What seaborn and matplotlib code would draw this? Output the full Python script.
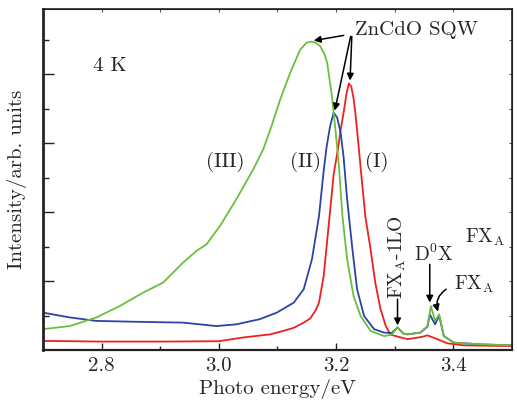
import numpy as np
import pandas as pd
import matplotlib
matplotlib.use('Agg')
import matplotlib.pyplot as plt
import seaborn as sns

# PL spectra at 4 K
# curve (I) - red
x_I = [2.70, 2.80, 2.90, 3.00, 3.042, 3.088, 3.11, 3.128, 3.145, 3.156, 3.165,
       3.171, 3.179, 3.188, 3.196, 3.203, 3.208, 3.213, 3.218, 3.222, 3.226,
       3.230, 3.233, 3.237, 3.242, 3.250, 3.259, 3.267, 3.276, 3.285, 3.293,
       3.322, 3.345, 3.356, 3.373, 3.39, 3.418, 3.50]
y_I = [0.27, 0.25, 0.25, 0.26, 0.37, 0.46, 0.56, 0.65, 0.80, 0.92, 1.15,
       1.38, 2.15, 3.70, 5.10, 5.80, 6.40, 6.89, 7.45, 7.74, 7.65,
       7.30, 6.89, 6.20, 5.30, 3.89, 2.93, 1.96, 1.19, 0.70, 0.45,
       0.32, 0.38, 0.43, 0.32, 0.20, 0.14, 0.12]

# curve (II) - blue
x_II = [2.70, 2.746, 2.791, 2.871, 2.939, 2.996, 3.03, 3.07, 3.099, 3.128,
        3.145, 3.159, 3.171, 3.179, 3.184, 3.19, 3.196, 3.202, 3.208, 3.213,
        3.219, 3.228, 3.236, 3.248, 3.265, 3.282, 3.295, 3.305, 3.315, 3.322,
        3.344, 3.356, 3.36, 3.369, 3.376, 3.384, 3.401, 3.447, 3.50]
y_II = [1.09, 0.95, 0.85, 0.82, 0.80, 0.70, 0.75, 0.90, 1.09, 1.38,
        1.77, 2.64, 3.89, 5.20, 5.90, 6.50, 6.89, 6.75, 6.30, 5.60,
        4.38, 2.93, 1.77, 0.99, 0.61, 0.51, 0.50, 0.66, 0.48, 0.46,
        0.51, 0.68, 1.04, 0.75, 1.00, 0.41, 0.22, 0.17, 0.14]

# curve (III) - green
x_III = [2.70, 2.746, 2.791, 2.831, 2.871, 2.905, 2.939, 2.962, 2.979, 3.002,
         3.03, 3.059, 3.076, 3.09, 3.105, 3.122, 3.139, 3.15, 3.158, 3.165,
         3.173, 3.18, 3.185, 3.193, 3.199, 3.205, 3.211, 3.219, 3.23, 3.242,
         3.259, 3.282, 3.295, 3.305, 3.315, 3.322, 3.344, 3.356, 3.362, 3.369,
         3.376, 3.384, 3.401, 3.447, 3.50]
y_III = [0.61, 0.70, 0.95, 1.28, 1.67, 1.96, 2.54, 2.88, 3.07, 3.60,
         4.38, 5.25, 5.83, 6.50, 7.28, 8.05, 8.72, 8.92, 8.95, 8.92,
         8.82, 8.60, 8.34, 7.37, 6.41, 5.34, 3.89, 2.64, 1.57, 0.99,
         0.56, 0.41, 0.45, 0.66, 0.48, 0.46, 0.51, 0.70, 1.28, 0.85,
         1.04, 0.41, 0.22, 0.17, 0.14]

curve_labels = ['(I)', '(II)', '(III)']
curve_colors = ['#ee2020', '#2a45a5', '#6abf3c']

sns.set_style('ticks')
plt.rcParams['font.family'] = ['cmr10', 'DejaVu Serif']
plt.rcParams['mathtext.fontset'] = 'cm'
plt.rcParams['axes.formatter.use_mathtext'] = True

fig = plt.figure(figsize=(5.17, 4.03), dpi=100)
ax = fig.add_axes([0.083, 0.131, 0.907, 0.847])

df = pd.concat([
    pd.DataFrame({'E': x_I, 'I': y_I, 'curve': '(I)'}),
    pd.DataFrame({'E': x_II, 'I': y_II, 'curve': '(II)'}),
    pd.DataFrame({'E': x_III, 'I': y_III, 'curve': '(III)'}),
])
for lab, col in zip(curve_labels, curve_colors):
    sns.lineplot(x='E', y='I', data=df[df['curve'] == lab], color=col,
                 lw=1.3, ax=ax, legend=False)

ax.set_xlim(2.7, 3.5)
ax.set_ylim(0, 9.9)
ax.set_xticks([2.8, 3.0, 3.2, 3.4])
ax.set_xticklabels(['2.8', '3.0', '3.2', '3.4'])
ax.set_xticks([2.9, 3.1, 3.3], minor=True)
ax.set_yticks([2, 4, 6, 8])
ax.set_yticks([1, 3, 5, 7, 9], minor=True)
ax.set_yticklabels([])
ax.tick_params(axis='x', which='major', direction='in', length=5, width=1,
               labelsize=15, color='#222222', pad=5)
ax.tick_params(axis='x', which='minor', direction='in', length=3, width=1,
               color='#222222')
ax.tick_params(axis='y', which='major', direction='in', length=8, width=1,
               color='#222222')
ax.tick_params(axis='y', which='minor', direction='in', length=4, width=1,
               color='#222222')
for s in ax.spines.values():
    s.set_linewidth(1.2)
    s.set_color('#222222')
ax.spines['left'].set_linewidth(2)
ax.spines['bottom'].set_linewidth(1.6)

# faint short ticks on top and right
top = ax.secondary_xaxis('top')
top.set_xticks([2.8, 2.9, 3.0, 3.1, 3.2, 3.3, 3.4])
top.tick_params(direction='in', length=2, labeltop=False, color='#555555')
right = ax.secondary_yaxis('right')
right.set_yticks([1, 2, 3, 4, 5, 6, 7, 8, 9])
right.tick_params(direction='in', length=2.5, labelright=False, color='#555555')

ax.set_xlabel('Photo energy/eV', fontsize=15, labelpad=3)
ax.set_ylabel('Intensity/arb. units', fontsize=15, labelpad=8)

# text labels
ax.text(2.785, 8.23, '4 K', fontsize=15, va='center')
ax.text(3.011, 5.45, '(III)', fontsize=15, ha='center', va='center')
ax.text(3.148, 5.45, '(II)', fontsize=15, ha='center', va='center')
ax.text(3.269, 5.45, '(I)', fontsize=15, ha='center', va='center')
ax.text(3.233, 9.28, 'ZnCdO SQW', fontsize=15, ha='left', va='center')

arrow = dict(arrowstyle='-|>', color='black', lw=1.1, mutation_scale=10,
             shrinkA=0, shrinkB=0)
ax.annotate('', xy=(3.162, 8.98), xytext=(3.213, 9.13), arrowprops=arrow)
ax.annotate('', xy=(3.198, 6.95), xytext=(3.225, 9.1), arrowprops=arrow)
ax.annotate('', xy=(3.224, 7.82), xytext=(3.227, 9.1), arrowprops=arrow)

ax.text(3.304, 2.7, r'FX$_\mathrm{A}$-1LO', fontsize=14, rotation=90,
        ha='center', va='center')
ax.annotate('', xy=(3.305, 0.72), xytext=(3.305, 1.48), arrowprops=arrow)
ax.text(3.367, 2.78, r'D$^0$X', fontsize=14, ha='center', va='center')
ax.annotate('', xy=(3.36, 1.38), xytext=(3.36, 2.49), arrowprops=arrow)
ax.text(3.435, 1.91, r'FX$_\mathrm{A}$', fontsize=14, ha='center', va='center')
ax.annotate('', xy=(3.374, 1.12), xytext=(3.388, 1.77),
            arrowprops=dict(arrowstyle='-|>', color='black', lw=1.1,
                            mutation_scale=10, shrinkA=0, shrinkB=0,
                            connectionstyle='arc3,rad=0.35'))
ax.text(3.454, 3.27, r'FX$_\mathrm{A}$', fontsize=14, ha='center', va='center')

fig.savefig('out.png', dpi=100)
